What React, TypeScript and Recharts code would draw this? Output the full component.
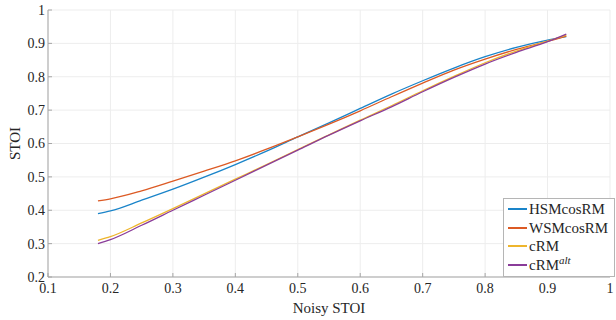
import { LineChart, Line, XAxis, YAxis, CartesianGrid } from 'recharts';

const noisy = [0.18, 0.2, 0.25, 0.3, 0.35, 0.4, 0.45, 0.5, 0.55, 0.6, 0.65, 0.7, 0.75, 0.8, 0.85, 0.9, 0.93];
const hsmCosRM = [0.39, 0.398, 0.43, 0.463, 0.499, 0.537, 0.577, 0.62, 0.662, 0.705, 0.748, 0.788, 0.826, 0.86, 0.888, 0.91, 0.92];
const wsmCosRM = [0.428, 0.434, 0.458, 0.487, 0.517, 0.548, 0.583, 0.62, 0.658, 0.698, 0.74, 0.781, 0.82, 0.853, 0.882, 0.906, 0.922];
const cRM = [0.31, 0.321, 0.362, 0.405, 0.449, 0.493, 0.537, 0.582, 0.626, 0.67, 0.713, 0.758, 0.801, 0.842, 0.877, 0.907, 0.925];
const cRMalt = [0.3, 0.312, 0.355, 0.4, 0.445, 0.49, 0.535, 0.58, 0.625, 0.668, 0.71, 0.755, 0.798, 0.838, 0.873, 0.905, 0.928];

const xTicks = [0.1, 0.2, 0.3, 0.4, 0.5, 0.6, 0.7, 0.8, 0.9, 1];
const yTicks = [0.2, 0.3, 0.4, 0.5, 0.6, 0.7, 0.8, 0.9, 1];

const series = [
  { key: 'hsm', name: 'HSMcosRM', color: '#1a84c9', values: hsmCosRM },
  { key: 'wsm', name: 'WSMcosRM', color: '#dc5a24', values: wsmCosRM },
  { key: 'crm', name: 'cRM', color: '#eeb52c', values: cRM },
  { key: 'alt', name: 'cRM', sup: 'alt', color: '#8a3c99', values: cRMalt },
];

const data = noisy.map((x, i) => {
  const row: Record<string, number> = { x };
  series.forEach((s) => (row[s.key] = s.values[i]));
  return row;
});

const font = "'Liberation Serif', serif";
const axisGray = '#a6a6a6';
const textColor = '#262626';
const tickStyle = { fill: textColor, fontSize: 14, style: { fontFamily: font } };

// legend drawn as an overlay so it does not take space from the plot
const LegendBox = () => (
  <div
    style={{
      position: 'absolute',
      left: 503,
      top: 198,
      border: '1px solid #b5b5b5',
      background: '#fff',
      padding: '1px 6px 2px 4px',
      fontFamily: font,
      fontSize: 15,
      color: textColor,
      lineHeight: '18.5px',
    }}
  >
    {series.map((s) => (
      <div key={s.key} style={{ display: 'flex', alignItems: 'center' }}>
        <span style={{ display: 'inline-block', width: 19, height: 2, background: s.color, marginRight: 2 }} />
        <span>
          {s.name}
          {s.sup && <sup style={{ fontStyle: 'italic', fontSize: 11, lineHeight: 0 }}>{s.sup}</sup>}
        </span>
      </div>
    ))}
  </div>
);

export default function App() {
  return (
    <div style={{ position: 'absolute', left: 0, top: 0, width: 616, height: 320, background: '#fff', fontFamily: font }}>
      <LineChart width={616} height={320} data={data} margin={{ top: 10, right: 6, bottom: 0, left: 0 }} style={{ fontFamily: font }}>
        <CartesianGrid stroke="#ededed" />
        <XAxis
          dataKey="x"
          type="number"
          domain={[0.1, 1]}
          ticks={xTicks}
          tickFormatter={(v) => String(v)}
          height={43}
          stroke={axisGray}
          tickSize={-4}
          tickMargin={10}
          tick={tickStyle}
          label={{ value: 'Noisy STOI', position: 'insideBottom', offset: 7, fill: textColor, fontSize: 15 }}
        />
        <XAxis xAxisId="top" orientation="top" dataKey="x" type="number" domain={[0.1, 1]} ticks={xTicks} height={0} tick={false} stroke={axisGray} />
        <YAxis
          type="number"
          domain={[0.2, 1]}
          ticks={yTicks}
          tickFormatter={(v) => String(v)}
          width={48}
          stroke={axisGray}
          tickSize={-4}
          tickMargin={7}
          tick={tickStyle}
          label={{ value: 'STOI', angle: -90, position: 'center', dx: -9, fill: textColor, fontSize: 15 }}
        />
        <YAxis yAxisId="right" orientation="right" type="number" domain={[0.2, 1]} ticks={yTicks} width={0} tick={false} stroke={axisGray} />
        {series.map((s) => (
          <Line
            key={s.key}
            dataKey={s.key}
            name={s.name}
            type="monotone"
            stroke={s.color}
            strokeWidth={1.3}
            dot={false}
            isAnimationActive={false}
          />
        ))}
      </LineChart>
      <LegendBox />
    </div>
  );
}
